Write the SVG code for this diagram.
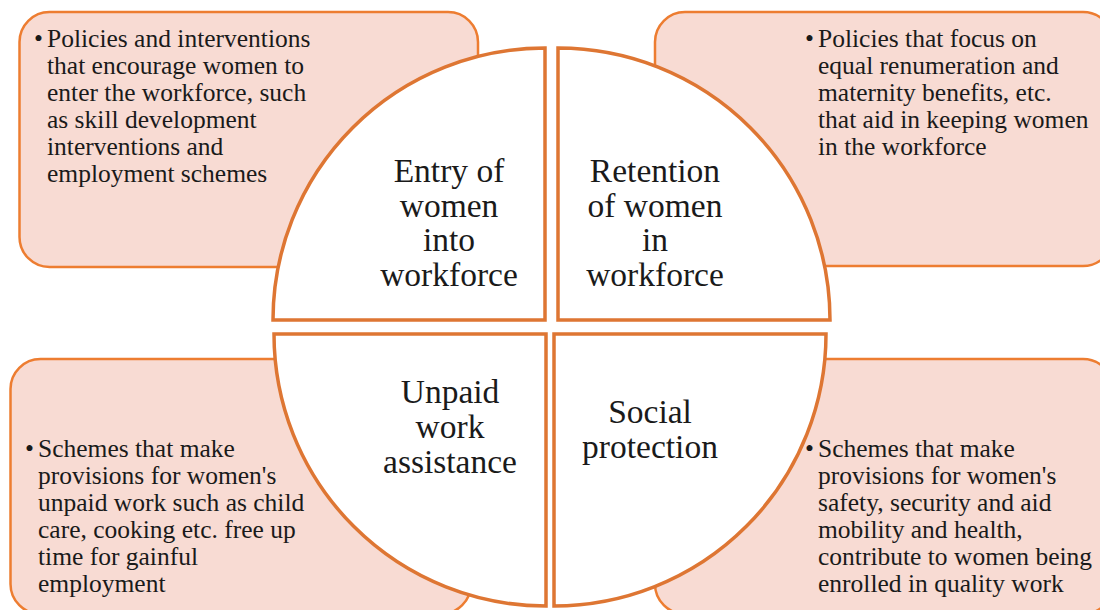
<svg xmlns="http://www.w3.org/2000/svg" width="1100" height="610" viewBox="0 0 1100 610">
  <style>
    .box { fill: #F8DBD3; stroke: #ED7D31; stroke-width: 2.5; }
    .quad { fill: #FFFFFF; stroke: #DE7633; stroke-width: 3.5; stroke-linejoin: miter; }
    .body { font-family: "Liberation Serif", "Times New Roman", serif; font-size: 25.5px; fill: #1A1A1A; }
    .title { font-family: "Liberation Serif", "Times New Roman", serif; font-size: 33.5px; fill: #1A1A1A; text-anchor: middle; }
  </style>
  <rect width="1100" height="610" fill="#FFFFFF"/>

  <!-- description boxes behind the circle -->
  <g id="box-entry">
    <rect class="box" x="19.5" y="12" width="458.5" height="255" rx="30" ry="30"/>
    <text class="body"><tspan x="34" y="46.5">•</tspan><tspan x="47" y="46.5">Policies and interventions</tspan><tspan x="47" y="73.5">that encourage women to</tspan><tspan x="47" y="100.5">enter the workforce, such</tspan><tspan x="47" y="127.5">as skill development</tspan><tspan x="47" y="154.5">interventions and</tspan><tspan x="47" y="181.5">employment schemes</tspan></text>
  </g>
  <g id="box-retention">
    <rect class="box" x="655" y="12" width="458" height="254" rx="30" ry="30"/>
    <text class="body"><tspan x="805" y="46.5">•</tspan><tspan x="818" y="46.5">Policies that focus on</tspan><tspan x="818" y="73.5">equal renumeration and</tspan><tspan x="818" y="100.5">maternity benefits, etc.</tspan><tspan x="818" y="127.5">that aid in keeping women</tspan><tspan x="818" y="154.5">in the workforce</tspan></text>
  </g>
  <g id="box-unpaid">
    <rect class="box" x="10.5" y="359" width="460.5" height="255" rx="30" ry="30"/>
    <text class="body"><tspan x="25" y="456.5">•</tspan><tspan x="38" y="456.5">Schemes that make</tspan><tspan x="38" y="483.5">provisions for women's</tspan><tspan x="38" y="510.5">unpaid work such as child</tspan><tspan x="38" y="537.5">care, cooking etc. free up</tspan><tspan x="38" y="564.5">time for gainful</tspan><tspan x="38" y="591.5">employment</tspan></text>
  </g>
  <g id="box-social">
    <rect class="box" x="655" y="359" width="458" height="255" rx="30" ry="30"/>
    <text class="body"><tspan x="805" y="456.5">•</tspan><tspan x="818" y="456.5">Schemes that make</tspan><tspan x="818" y="483.5">provisions for women's</tspan><tspan x="818" y="510.5">safety, security and aid</tspan><tspan x="818" y="537.5">mobility and health,</tspan><tspan x="818" y="564.5">contribute to women being</tspan><tspan x="818" y="591.5">enrolled in quality work</tspan></text>
  </g>

  <!-- four quarter sectors of the central circle -->
  <g id="quad-entry">
    <path class="quad" d="M545,48 L545,320 L273,320 A272,272 0 0 1 545,48 Z"/>
    <text class="title"><tspan x="449" y="182">Entry of</tspan><tspan x="449" y="216.5">women</tspan><tspan x="449" y="251">into</tspan><tspan x="449" y="285.5">workforce</tspan></text>
  </g>
  <g id="quad-retention">
    <path class="quad" d="M558,48 A272,272 0 0 1 830,320 L558,320 Z"/>
    <text class="title"><tspan x="655" y="182">Retention</tspan><tspan x="655" y="216.5">of women</tspan><tspan x="655" y="251">in</tspan><tspan x="655" y="285.5">workforce</tspan></text>
  </g>
  <g id="quad-unpaid">
    <path class="quad" d="M546,334 L546,606 A272,272 0 0 1 274,334 Z"/>
    <text class="title"><tspan x="450" y="403">Unpaid</tspan><tspan x="450" y="438">work</tspan><tspan x="450" y="473">assistance</tspan></text>
  </g>
  <g id="quad-social">
    <path class="quad" d="M554,334 L826,334 A272,272 0 0 1 554,606 Z"/>
    <text class="title"><tspan x="650" y="423">Social</tspan><tspan x="650" y="457.5">protection</tspan></text>
  </g>
</svg>
